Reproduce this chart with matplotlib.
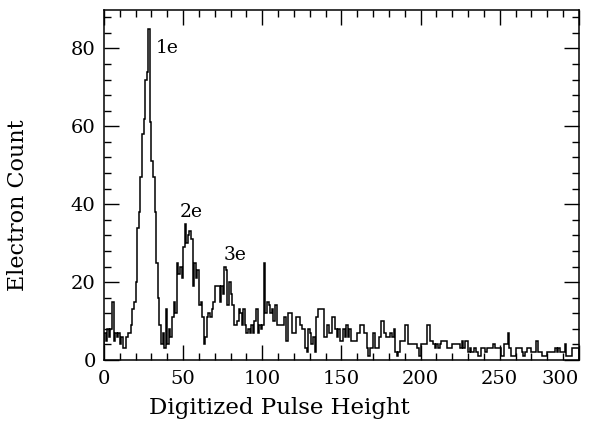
import numpy as np
import matplotlib.pyplot as plt
from matplotlib.ticker import MultipleLocator

# counts per unit-wide bin of digitized pulse height, 0..299
counts_0_99 = [
    7, 5, 8, 6, 8, 15, 5, 7, 6, 7,
    4, 6, 3, 3, 6, 7, 7, 9, 13, 15,
    20, 34, 38, 47, 58, 62, 72, 74, 85, 61,
    51, 47, 38, 25, 16, 9, 4, 7, 3, 13,
    4, 8, 6, 11, 15, 12, 25, 22, 24, 21,
    29, 35, 30, 32, 33, 31, 19, 25, 21, 23,
    14, 15, 11, 4, 6, 11, 12, 11, 13, 15,
    19, 19, 19, 15, 19, 17, 24, 23, 14, 20,
    17, 14, 9, 9, 10, 13, 12, 9, 13, 9,
    7, 8, 7, 9, 7, 10, 13, 7, 9, 8,
]
counts_100_199 = [
    9, 25, 12, 15, 14, 12, 13, 10, 14, 9,
    9, 9, 9, 9, 11, 5, 12, 12, 12, 7,
    7, 11, 11, 11, 9, 8, 8, 3, 2, 8,
    7, 4, 6, 2, 11, 13, 13, 13, 13, 6,
    6, 9, 7, 7, 11, 11, 8, 6, 8, 5,
    5, 8, 6, 9, 6, 8, 5, 5, 5, 5,
    7, 7, 9, 9, 7, 7, 3, 1, 3, 3,
    7, 3, 3, 3, 6, 10, 10, 7, 6, 6,
    6, 7, 6, 8, 2, 1, 2, 5, 5, 5,
    9, 9, 4, 4, 4, 4, 4, 4, 3, 1,
]
counts_200_299 = [
    4, 4, 4, 4, 9, 9, 5, 5, 4, 3,
    4, 3, 4, 5, 5, 5, 5, 3, 3, 3,
    4, 4, 4, 4, 4, 3, 5, 3, 5, 5,
    2, 3, 2, 2, 3, 2, 1, 1, 3, 3,
    3, 2, 3, 3, 3, 3, 4, 3, 3, 3,
    3, 1, 1, 4, 4, 7, 3, 1, 1, 1,
    3, 3, 3, 3, 2, 1, 2, 3, 3, 3,
    2, 2, 2, 5, 2, 2, 2, 1, 1, 1,
    2, 2, 2, 2, 2, 3, 2, 3, 2, 2,
    2, 4, 1, 1, 1, 1, 3, 3, 3, 3,
]
counts = np.array(counts_0_99 + counts_100_199 + counts_200_299)
edges = np.arange(len(counts) + 1)

peak_labels = ['1e', '2e', '3e']
peak_pos = [(40, 80), (55, 38), (83, 27)]

plt.rcParams['font.family'] = 'DejaVu Serif'

fig = plt.figure(figsize=(5.95, 4.23), dpi=100)
ax = fig.add_axes([0.1748, 0.149, 0.798, 0.8285])

ax.stairs(counts, edges, color='black', linewidth=1.1)

for lab, (px, py) in zip(peak_labels, peak_pos):
    ax.text(px, py, lab, fontsize=13.5, ha='center', va='center')

ax.set_xlim(0, 300)
ax.set_ylim(0, 90)
ax.set_xticks([0, 50, 100, 150, 200, 250, 300])
ax.xaxis.set_minor_locator(MultipleLocator(10))
ax.set_yticks([0, 20, 40, 60, 80])
ax.yaxis.set_minor_locator(MultipleLocator(4))
ax.tick_params(which='both', direction='in', top=True, right=True,
               width=1.0, labelsize=14)
ax.tick_params(which='major', length=11)
ax.tick_params(which='minor', length=5)
ax.tick_params(axis='x', pad=7)
ax.tick_params(axis='y', pad=6)
for s in ax.spines.values():
    s.set_linewidth(1.1)

# keep the last x label inside the frame
fig.canvas.draw()
for t in ax.xaxis.get_major_ticks():
    if t.get_loc() == 300:
        t.label1.set_horizontalalignment('right')

ax.set_xlabel('Digitized Pulse Height', fontsize=16.5, va='center')
ax.set_ylabel('Electron Count', fontsize=16, va='center')
ax.xaxis.set_label_coords(0.37, -0.137)
ax.yaxis.set_label_coords(-0.181, 0.442)

fig.savefig('out.png', dpi=100)
